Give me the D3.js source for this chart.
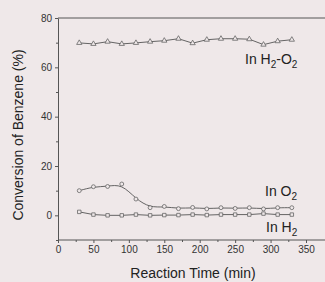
<!DOCTYPE html>
<html lang="en">
<head>
<meta charset="UTF-8">
<title>Conversion of Benzene</title>
<script src="https://cdn.jsdelivr.net/npm/d3@7"></script>
<style>
body { margin: 0; background: #efe8e9; font-family: "Liberation Sans", Arial, sans-serif; }
.axis text { font-size: 10px; fill: #333; }
.axis path, .axis line { stroke: #555; }
</style>
</head>
<body>
<script>
// reaction time (min)
var times = [30, 50, 70, 90, 110, 130, 150, 170, 190, 210, 230, 250, 270, 290, 310, 330];
// conversion (%)
var h2o2 = [69.9, 69.5, 70.4, 69.5, 69.9, 70.4, 70.8, 71.6, 69.8, 71.2, 71.6, 71.6, 71.4, 69.2, 70.6, 71.2];
var o2 = [10.0, 11.6, 11.7, 12.7, 6.6, 3.1, 3.6, 2.7, 3.2, 2.6, 3.1, 2.8, 3.1, 2.6, 3.1, 3.1];
var h2 = [1.4, 0.3, 0.0, 0.0, 0.3, 0.0, 0.1, 0.1, 0.3, 0.1, 0.3, 0.3, 0.3, 0.7, 0.3, 0.3];
var xTicks = [0, 50, 100, 150, 200, 250, 300, 350];
var yTicks = [0, 20, 40, 60, 80];

var W = 325, H = 282;
var margin = {top: 18, left: 58};

var svg = d3.select("body").append("svg")
    .attr("width", W)
    .attr("height", H);

var x = d3.scaleLinear().domain([0, 350]).range([margin.left, 306]);
var y = d3.scaleLinear().domain([-10, 80]).range([240, margin.top]);

// frame (top line)
svg.append("line")
    .attr("x1", x(0)).attr("x2", W + 5)
    .attr("y1", y(80)).attr("y2", y(80))
    .attr("stroke", "#555");

// x axis
svg.append("g")
    .attr("class", "x axis")
    .attr("transform", "translate(0," + y(-10) + ")")
    .call(d3.axisBottom(x).tickValues(xTicks).tickSize(3).tickSizeOuter(0))
    .call(function(g) { g.select(".domain").attr("d", "M" + x(0) + ",0H" + (W + 5)); });

svg.append("g")
    .attr("class", "axis")
    .attr("transform", "translate(0," + y(-10) + ")")
    .call(d3.axisBottom(x).tickValues(d3.range(25, 375, 50)).tickSize(2).tickFormat(""))
    .call(function(g) { g.select(".domain").remove(); });

// y axis
svg.append("g")
    .attr("class", "y axis")
    .attr("transform", "translate(" + x(0) + ",0)")
    .call(d3.axisLeft(y).tickValues(yTicks).tickSize(3).tickSizeOuter(0));

svg.append("g")
    .attr("class", "axis")
    .attr("transform", "translate(" + x(0) + ",0)")
    .call(d3.axisLeft(y).tickValues([-10, 10, 30, 50, 70]).tickSize(2).tickFormat(""))
    .call(function(g) { g.select(".domain").remove(); });

function series(vals, curve, shape) {
    var pts = times.map(function(t, i) { return [x(t), y(vals[i])]; });
    svg.append("path")
        .attr("d", d3.line().curve(curve)(pts))
        .attr("fill", "none")
        .attr("stroke", "#555")
        .attr("stroke-width", 0.9);
    svg.append("g").selectAll("path")
        .data(pts)
        .enter().append("path")
        .attr("transform", function(d) { return "translate(" + d[0] + "," + d[1] + ")"; })
        .attr("d", d3.symbol().type(shape).size(12))
        .attr("fill", "#efe8e9")
        .attr("stroke", "#666")
        .attr("stroke-width", 0.8);
}

series(h2o2, d3.curveLinear, d3.symbolTriangle);
series(o2, d3.curveBasis, d3.symbolCircle);
series(h2, d3.curveLinear, d3.symbolSquare);

// series labels
function label(xp, yp, main, sub1, mid, sub2) {
    var t = svg.append("text")
        .attr("x", xp).attr("y", yp)
        .attr("font-size", 14).attr("fill", "#222");
    t.append("tspan").text(main);
    t.append("tspan").attr("dy", 4).attr("font-size", 10).text(sub1);
    if (mid) {
        t.append("tspan").attr("dy", -4).text(mid);
        t.append("tspan").attr("dy", 4).attr("font-size", 10).text(sub2);
    }
}
label(245, 64, "In H", "2", "-O", "2");
label(265, 196, "In O", "2");
label(266, 232, "In H", "2");

// axis titles
svg.append("text")
    .attr("x", 193).attr("y", 278)
    .attr("text-anchor", "middle")
    .attr("font-size", 14).attr("fill", "#222")
    .text("Reaction Time (min)");

svg.append("text")
    .attr("transform", "translate(23,135) rotate(-90)")
    .attr("text-anchor", "middle")
    .attr("font-size", 14).attr("fill", "#222")
    .text("Conversion of Benzene (%)");
</script>
</body>
</html>
